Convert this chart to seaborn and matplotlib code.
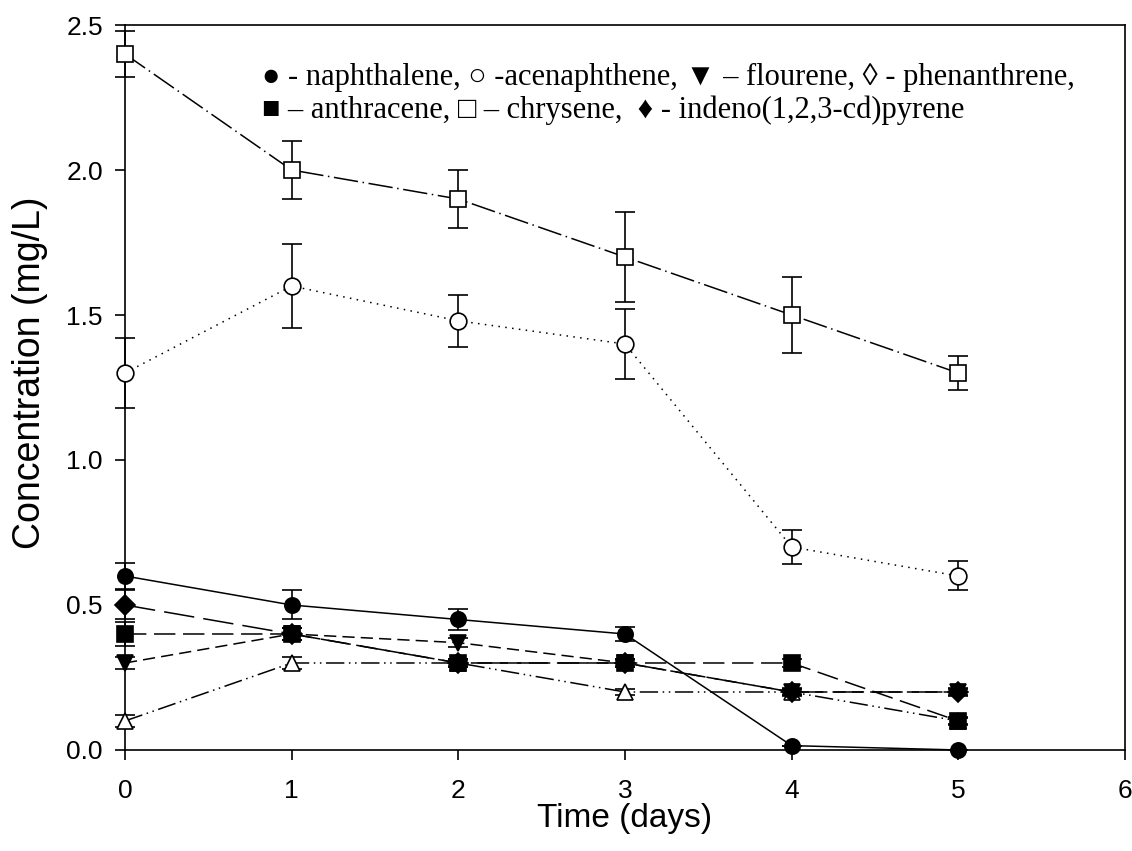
import matplotlib
matplotlib.use("Agg")
import matplotlib.pyplot as plt
import seaborn as sns
import pandas as pd

# ---- data ----
time = [0, 1, 2, 3, 4, 5]
naphthalene = [0.60, 0.50, 0.45, 0.40, 0.015, 0.0]
naphthalene_err = [0.045, 0.05, 0.035, 0.025, 0.0, 0.0]
acenaphthene = [1.30, 1.60, 1.48, 1.40, 0.70, 0.60]
acenaphthene_err = [0.12, 0.145, 0.09, 0.12, 0.06, 0.05]
flourene = [0.30, 0.40, 0.37, 0.30, 0.20, 0.20]
flourene_err = [0.02, 0.02, 0.015, 0.01, 0.01, 0.01]
phenanthrene = [0.10, 0.30, 0.30, 0.20, 0.20, 0.10]
phenanthrene_err = [0.02, 0.02, 0.01, 0.01, 0.01, 0.01]
anthracene = [0.40, 0.40, 0.30, 0.30, 0.30, 0.10]
anthracene_err = [0.04, 0.02, 0.015, 0.015, 0.015, 0.015]
chrysene = [2.40, 2.00, 1.90, 1.70, 1.50, 1.30]
chrysene_err = [0.08, 0.10, 0.10, 0.155, 0.13, 0.057]
indeno = [0.50, 0.40, 0.30, 0.30, 0.20, 0.20]
indeno_err = [0.05, 0.02, 0.015, 0.015, 0.015, 0.015]

x_ticks = [0, 1, 2, 3, 4, 5, 6]
y_ticks = [0.0, 0.5, 1.0, 1.5, 2.0, 2.5]
x_label = "Time (days)"
y_label = "Concentration (mg/L)"
legend_line1 = "\u25cf - naphthalene, \u25cb -acenaphthene, \u25bc \u2013 flourene, \u25ca - phenanthrene,"
legend_line2 = "\u25a0 \u2013 anthracene, \u25a1 \u2013 chrysene,  \u2666 - indeno(1,2,3-cd)pyrene"

series = [
    ("naphthalene", naphthalene, naphthalene_err),
    ("acenaphthene", acenaphthene, acenaphthene_err),
    ("flourene", flourene, flourene_err),
    ("phenanthrene", phenanthrene, phenanthrene_err),
    ("anthracene", anthracene, anthracene_err),
    ("chrysene", chrysene, chrysene_err),
    ("indeno", indeno, indeno_err),
]

# ---- styles ----
styles = {
    "naphthalene": dict(ls="-", marker="o", mfc="black", ms=11),
    "acenaphthene": dict(ls=(0, (1, 3.5)), marker="o", mfc="white", ms=12),
    "flourene": dict(ls=(0, (8, 4)), marker="v", mfc="black", ms=12),
    "phenanthrene": dict(ls=(0, (12, 3, 1, 3, 1, 3)), marker="^", mfc="white", ms=12),
    "anthracene": dict(ls=(0, (14, 5)), marker="s", mfc="black", ms=11),
    "chrysene": dict(ls=(0, (16, 3, 1, 3)), marker="s", mfc="white", ms=12),
    "indeno": dict(ls=(0, (20, 6)), marker="D", mfc="black", ms=10),
}

sns.set_style("ticks")
plt.rcParams["font.family"] = ["Liberation Sans", "DejaVu Sans"]
plt.rcParams["text.color"] = "black"
plt.rcParams["axes.labelcolor"] = "black"

fig = plt.figure(figsize=(11.32, 8.51), dpi=100)
ax = fig.add_axes([0.1104, 0.1187, 0.8834, 0.8519])

for name, vals, err in series:
    st = styles[name]
    eb = ax.errorbar(time, vals, yerr=err, fmt="none", ecolor="black",
                     elinewidth=1.2, capsize=7.5, capthick=1.2, zorder=2)
    for art in eb.lines[1] + eb.lines[2]:
        art.set_clip_on(False)
    df = pd.DataFrame({"t": time, "v": vals})
    sns.lineplot(data=df, x="t", y="v", ax=ax, color="black",
                 linestyle=st["ls"], linewidth=1.1, marker=st["marker"],
                 markersize=st["ms"], markerfacecolor=st["mfc"],
                 markeredgecolor="black", markeredgewidth=1.2, zorder=3,
                 clip_on=False)

ax.set_xlim(0, 6)
ax.set_ylim(0, 2.5)
ax.set_xticks(x_ticks)
ax.set_xticklabels([str(t) for t in x_ticks])
ax.set_yticks(y_ticks)
ax.set_yticklabels([f"{v:.1f}" for v in y_ticks])
ax.tick_params(direction="out", length=7, width=1.2, labelsize=19,
               colors="black", labelcolor="black")
ax.tick_params(axis="x", pad=14)
ax.tick_params(axis="y", pad=9)
for sp in ax.spines.values():
    sp.set_visible(True)
    sp.set_linewidth(1.2)
    sp.set_color("black")
ax.set_xlabel(x_label, fontsize=24, labelpad=0, color="black")
ax.set_ylabel(y_label, fontsize=27, color="black")
ax.yaxis.set_label_coords(-0.077, 0.52)

fig.text(262 / 1132, 1 - 77 / 851, legend_line1, fontsize=22, va="center", ha="left",
         color="black", family=["Liberation Serif", "DejaVu Sans"])
fig.text(262 / 1132, 1 - 110 / 851, legend_line2, fontsize=22, va="center", ha="left",
         color="black", family=["Liberation Serif", "DejaVu Sans"])

fig.savefig("out.png", dpi=100)
